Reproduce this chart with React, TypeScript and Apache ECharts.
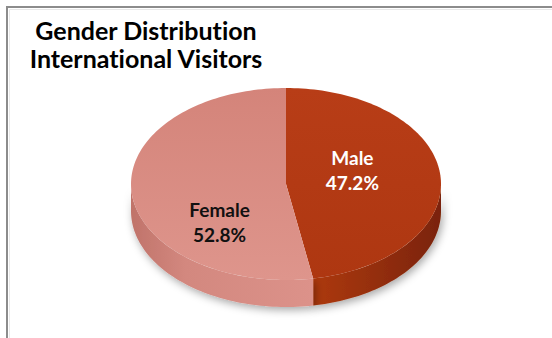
import React, { useEffect, useRef } from "react";
import * as echarts from "echarts";

const categories = ["Male", "Female"];
const values = [47.2, 52.8];
const titleLines = ["Gender Distribution", "International Visitors"];

const topColors = [
  ["#b83d17", "#ae3711"],
  ["#d4847a", "#de958c"],
];
const sideColors = [
  ["#ad3910", "#7a2307"],
  ["#c0736a", "#dc928a"],
];
const labelColors = ["#ffffff", "#111111"];
const labelShiftY = [-10, 34];

const FONT = "Lato, 'Open Sans', sans-serif";

export default function App() {
  const ref = useRef<HTMLDivElement>(null);
  useEffect(() => {
    if (!ref.current) return;
    const chart = echarts.init(ref.current, undefined, { renderer: "svg" });
    const total = values.reduce((a, b) => a + b, 0);
    const cx = 286, cy = 184, rx = 155, ry = 96, depth = 27;
    const pt = (t: number, dy = 0) => [cx + rx * Math.sin(t), cy - ry * Math.cos(t) + dy];
    const arc = (a0: number, a1: number, dy = 0) => {
      const n = Math.max(2, Math.ceil(((a1 - a0) / (2 * Math.PI)) * 240));
      const out: number[][] = [];
      for (let k = 0; k <= n; k++) out.push(pt(a0 + ((a1 - a0) * k) / n, dy));
      return out;
    };
    chart.setOption({
      animation: false,
      backgroundColor: "#ffffff",
      title: {
        text: titleLines.join("\n"),
        left: 141,
        top: 11,
        textAlign: "center",
        textStyle: {
          fontFamily: FONT,
          fontWeight: "bold",
          fontSize: 25,
          lineHeight: 28,
          color: "#000000",
        },
      },
      graphic: [
        {
          type: "rect",
          shape: { x: 7, y: 7, width: 700, height: 500 },
          style: { fill: "none", stroke: "#8c8c8c", lineWidth: 2 },
          silent: true,
        },
        {
          type: "rect",
          shape: { x: 9.5, y: 9.5, width: 700, height: 500 },
          style: { fill: "none", stroke: "#e8e8e8", lineWidth: 1 },
          silent: true,
        },
      ],
      series: [
        {
          type: "custom",
          coordinateSystem: "none",
          data: values.map((v, i) => ({ name: categories[i], value: v })),
          renderItem: (params: any, api: any) => {
            const i = params.dataIndex;
            let before = 0;
            for (let j = 0; j < i; j++) before += values[j];
            const v = api.value(0);
            const a0 = (before / total) * 2 * Math.PI;
            const a1 = ((before + v) / total) * 2 * Math.PI;
            const children: any[] = [];
            const s0 = Math.max(a0, Math.PI / 2);
            const s1 = Math.min(a1, (3 * Math.PI) / 2);
            if (s1 > s0) {
              const upper = arc(s0, s1, 0);
              const lower = arc(s0, s1, depth).reverse();
              children.push({
                type: "polygon",
                z2: 1,
                shape: { points: upper.concat(lower) },
                style: {
                  fill: new echarts.graphic.LinearGradient(0, 0, 1, 0, [
                    { offset: 0, color: sideColors[i][0] },
                    { offset: i === 1 ? 0.3 : 0, color: i === 1 ? "#d3887f" : sideColors[i][0] },
                    { offset: 1, color: sideColors[i][1] },
                  ]),
                  shadowBlur: 8,
                  shadowOffsetY: 3,
                  shadowOffsetX: 2,
                  shadowColor: "rgba(0,0,0,0.35)",
                },
              });
            }
            const top = [[cx, cy]].concat(arc(a0, a1, 0));
            children.push({
              type: "polygon",
              z2: 5,
              shape: { points: top },
              style: {
                fill: new echarts.graphic.LinearGradient(0, 0, 0, 1, [
                  { offset: 0, color: topColors[i][0] },
                  { offset: 1, color: topColors[i][1] },
                ]),
              },
            });
            const mid = (a0 + a1) / 2;
            const lx = cx + 0.43 * rx * Math.sin(mid);
            const ly = cy - 0.43 * ry * Math.cos(mid) + labelShiftY[i];
            children.push({
              type: "text",
              z2: 10,
              style: {
                text: categories[i] + "\n" + v.toFixed(1) + "%",
                x: lx,
                y: ly,
                fill: labelColors[i],
                fontFamily: FONT,
                fontWeight: "bold",
                fontSize: 19,
                lineHeight: 25,
                align: "center",
                verticalAlign: "middle",
                textAlign: "center",
                textVerticalAlign: "middle",
              },
            });
            return { type: "group", children };
          },
        },
      ],
    });
    return () => chart.dispose();
  }, []);
  return (
    <div
      ref={ref}
      style={{
        position: "absolute",
        left: 0,
        top: 0,
        width: 552,
        height: 338,
        fontVariantLigatures: "none",
      }}
    />
  );
}
